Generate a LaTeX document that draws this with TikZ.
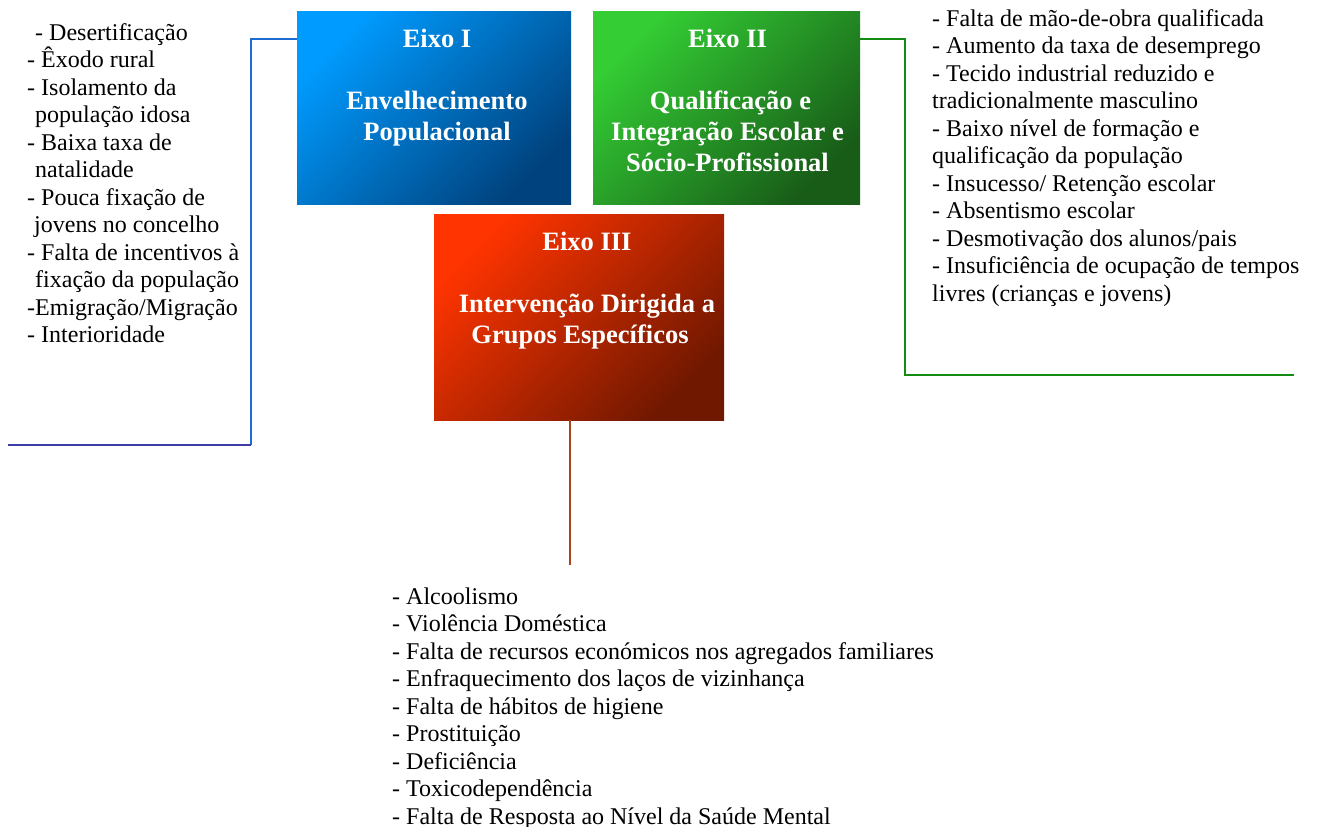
\documentclass[tikz,border=0pt]{standalone}
\usepackage{fontspec}
\setmainfont{Liberation Serif}
\begin{document}
\begin{tikzpicture}[x=1pt, y=-1pt]
            \tikzset{eixo/.style = {shape=rectangle, draw=none, inner sep=0pt, shading angle=45}}
            \tikzset{titulo/.style = {anchor=north, inner sep=0pt, align=center, text=white, font=\fontsize{26.5}{30.8}\selectfont\bfseries}}
            \tikzset{lista/.style = {anchor=north west, inner sep=0pt, align=left, font=\fontsize{24}{27.5}\selectfont}}
            \tikzset{edge/.style = {line width=2.2pt}}

            \useasboundingbox (0, 0) rectangle (1318, 827);

            \node[eixo, minimum width=274pt, minimum height=193pt, top color={rgb,255:red,0;green,155;blue,255}, bottom color={rgb,255:red,0;green,66;blue,125}, shading angle=45] (eixoI) at (434, 107.5) {};
            \node[eixo, minimum width=267pt, minimum height=193pt, top color={rgb,255:red,52;green,206;blue,52}, bottom color={rgb,255:red,24;green,92;blue,24}, shading angle=45] (eixoII) at (726.5, 107.5) {};
            \node[eixo, minimum width=290pt, minimum height=206pt, top color={rgb,255:red,255;green,52;blue,0}, bottom color={rgb,255:red,112;green,24;blue,0}, shading angle=45] (eixoIII) at (579, 317) {};

            \node[titulo, xshift=3pt, yshift=-18.5pt] (tituloI) at (eixoI.north) {Eixo I\\ \\ Envelhecimento\\ Populacional};
            \node[titulo, xshift=1pt, yshift=-18.5pt] (tituloII) at (eixoII.north) {Eixo II\\ \\ \hspace*{6pt}Qualificação e\\ Integração Escolar e\\ Sócio-Profissional};
            \node[titulo, xshift=8pt, yshift=-18.5pt] (tituloIII) at (eixoIII.north) {Eixo III\\ \\ Intervenção Dirigida a\\ Grupos Específicos\hspace*{14pt}};

            \node[lista] (listaI) at (27, 23.3) {\hspace*{8pt}- Desertificação\\ - Êxodo rural\\ - Isolamento da\\ \hspace*{8pt}população idosa\\ - Baixa taxa de\\ \hspace*{8pt}natalidade\\ - Pouca fixação de\\ \hspace*{7pt}jovens no concelho\\ - Falta de incentivos à\\ \hspace*{8pt}fixação da população\\ -Emigração/Migração\\ - Interioridade};
            \node[lista] (listaII) at (932, 9.3) {- Falta de mão-de-obra qualificada\\ - Aumento da taxa de desemprego\\ - Tecido industrial reduzido e\\ tradicionalmente masculino\\ - Baixo nível de formação e\\ qualificação da população\\ - Insucesso/ Retenção escolar\\ - Absentismo escolar\\ - Desmotivação dos alunos/pais\\ - Insuficiência de ocupação de tempos\\ livres (crianças e jovens)};
            \node[lista] (listaIII) at (392, 587.3) {- Alcoolismo\\ - Violência Doméstica\\ - Falta de recursos económicos nos agregados familiares\\ - Enfraquecimento dos laços de vizinhança\\ - Falta de hábitos de higiene\\ - Prostituição\\ - Deficiência\\ - Toxicodependência\\ - Falta de Resposta ao Nível da Saúde Mental};

            \coordinate (cantoI) at (251, 445);
            \coordinate (fimI) at (8, 445);
            \coordinate (cantoII) at (905, 375);
            \coordinate (fimII) at (1294, 375);
            \coordinate (fimIII) at (570, 565);

            \draw[edge, draw={rgb,255:red,30;green,110;blue,210}] ([yshift=-28pt]eixoI.north west) -| (cantoI);
            \draw[edge, draw={rgb,255:red,60;green,60;blue,165}] (cantoI) -- (fimI);
            \draw[edge, draw={rgb,255:red,20;green,140;blue,20}] ([yshift=-28pt]eixoII.north east) -| (cantoII) -- (fimII);
            \draw[edge, draw={rgb,255:red,168;green,68;blue,28}] ([xshift=-9pt]eixoIII.south) -- (fimIII);
        \end{tikzpicture}
\end{document}
